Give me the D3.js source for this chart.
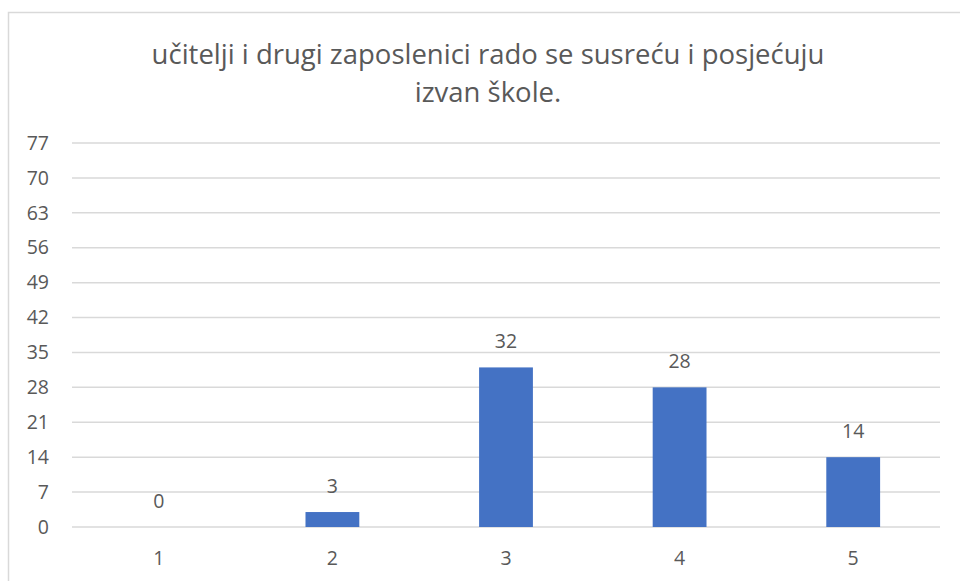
<!DOCTYPE html>
<html>
<head>
<meta charset="utf-8">
<script src="https://cdn.jsdelivr.net/npm/d3@7"></script>
<style>
  body { margin: 0; background: #fff; }
  text { font-family: "Open Sans", "Noto Sans", sans-serif; fill: #595959; }
</style>
</head>
<body>
<svg id="chart" width="960" height="581"></svg>
<script>
const categories = ["1", "2", "3", "4", "5"];
const values = [0, 3, 32, 28, 14];
const yTicks = [0, 7, 14, 21, 28, 35, 42, 49, 56, 63, 70, 77];
const titleLines = ["učitelji i drugi zaposlenici rado se susreću i posjećuju", "izvan škole."];

const svg = d3.select("#chart");

// chart frame
svg.append("rect")
  .attr("x", 8.5).attr("y", 12.5)
  .attr("width", 1000).attr("height", 700)
  .attr("fill", "none")
  .attr("stroke", "#d9d9d9")
  .attr("stroke-width", 1.5);

const plotLeft = 72, plotRight = 940, plotTop = 143, plotBottom = 527;
const labelSize = "19.5px";

const x = d3.scaleBand()
  .domain(categories)
  .range([plotLeft, plotRight])
  .padding(0);

const y = d3.scaleLinear()
  .domain([0, 77])
  .range([plotBottom, plotTop]);

// gridlines
svg.append("g")
  .selectAll("line")
  .data(yTicks)
  .enter().append("line")
    .attr("x1", plotLeft).attr("x2", plotRight)
    .attr("y1", d => y(d)).attr("y2", d => y(d))
    .attr("stroke", "#d9d9d9")
    .attr("stroke-width", 1.5);

// y axis labels
const yAxis = svg.append("g")
  .attr("transform", "translate(49,0)")
  .call(d3.axisLeft(y).tickValues(yTicks).tickSize(0).tickPadding(0));
yAxis.select(".domain").remove();
yAxis.selectAll("text")
  .style("font-size", labelSize)
  .style("font-family", "'Open Sans', sans-serif")
  .attr("fill", "#595959");

// x axis labels
const xAxis = svg.append("g")
  .attr("transform", "translate(0," + plotBottom + ")")
  .call(d3.axisBottom(x).tickSize(0).tickPadding(24));
xAxis.select(".domain").remove();
xAxis.selectAll("text")
  .style("font-size", labelSize)
  .style("font-family", "'Open Sans', sans-serif")
  .attr("fill", "#595959");

const barW = x.bandwidth() * 0.31;

// bars
svg.append("g")
  .selectAll("rect")
  .data(values)
  .enter().append("rect")
    .attr("x", (d, i) => x(categories[i]) + x.bandwidth() / 2 - barW / 2)
    .attr("y", d => y(d))
    .attr("width", barW)
    .attr("height", d => y(0) - y(d))
    .attr("fill", "#4472c4");

// data labels
svg.append("g")
  .selectAll("text")
  .data(values)
  .enter().append("text")
    .attr("x", (d, i) => x(categories[i]) + x.bandwidth() / 2)
    .attr("y", d => y(d) - 19)
    .attr("text-anchor", "middle")
    .style("font-size", labelSize)
    .text(d => d);

// title
svg.append("g")
  .selectAll("text")
  .data(titleLines)
  .enter().append("text")
    .attr("x", 488)
    .attr("y", (d, i) => 64 + i * 38)
    .attr("text-anchor", "middle")
    .style("font-size", "27.5px")
    .text(d => d);
</script>
</body>
</html>
